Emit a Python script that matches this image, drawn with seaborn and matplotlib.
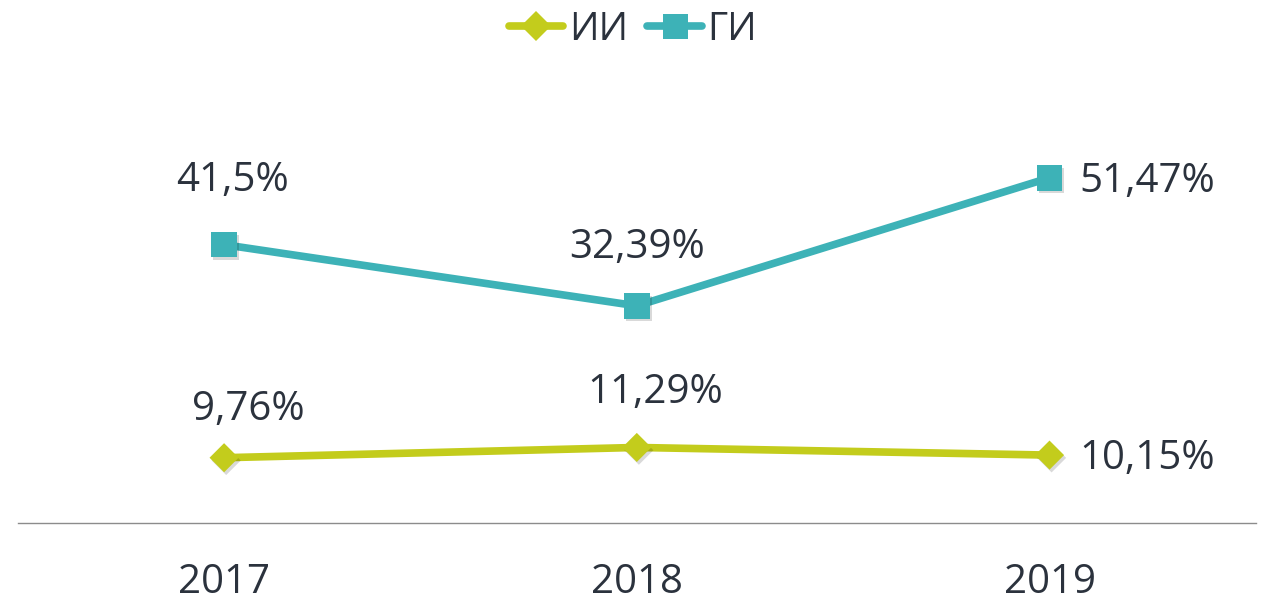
import numpy as np
import pandas as pd
import matplotlib
matplotlib.use("Agg")
import matplotlib.pyplot as plt
import matplotlib.patheffects as pe
from matplotlib.lines import Line2D
import seaborn as sns

# Data
years = ["2017", "2018", "2019"]
ii_vals = [9.76, 11.29, 10.15]
gi_vals = [41.5, 32.39, 51.47]
ii_labels = ["9,76%", "11,29%", "10,15%"]
gi_labels = ["41,5%", "32,39%", "51,47%"]

ii_color = "#C3CC1C"
gi_color = "#3DB2B7"
text_color = "#2B323D"

sns.set_theme(style="white")
plt.rcParams['font.family'] = ['Open Sans', 'DejaVu Sans']

fig = plt.figure(figsize=(12.66, 6.07), dpi=100)
ax = fig.add_axes([0.014, 0.138, 0.978, 0.763])

df = pd.DataFrame({"x": np.arange(len(years)), "ii": ii_vals, "gi": gi_vals})

shadow = [pe.SimplePatchShadow(offset=(1.5, -2), alpha=0.15, shadow_rgbFace="black"), pe.Normal()]

# lines
sns.lineplot(data=df, x="x", y="gi", ax=ax, color=gi_color, lw=5.5)
sns.lineplot(data=df, x="x", y="ii", ax=ax, color=ii_color, lw=5.5)
# markers with soft shadow
sns.scatterplot(data=df, x="x", y="gi", ax=ax, color=gi_color, marker="s", s=340,
                linewidth=0, path_effects=shadow, zorder=3)
sns.scatterplot(data=df, x="x", y="ii", ax=ax, color=ii_color, marker="D", s=220,
                linewidth=0, path_effects=shadow, zorder=3)

ax.set_xlim(-0.5, 2.5)
ax.set_ylim(0, 69)
ax.set_xticks(df["x"])
ax.set_xticklabels(years, fontsize=29, color=text_color)
ax.tick_params(axis="x", length=0, pad=28)
ax.set_yticks([])
ax.set_xlabel("")
ax.set_ylabel("")
for s in ["top", "left", "right"]:
    ax.spines[s].set_visible(False)
ax.spines["bottom"].set_color("#8C8C8C")
ax.spines["bottom"].set_linewidth(1)

# data labels (offsets in pixels)
gi_off = [(8, 64), (0, 58), (30, -4)]
ii_off = [(24, 48), (18, 55), (30, -4)]
gi_ha = ["center", "center", "left"]
ii_ha = ["center", "center", "left"]
for i in range(len(years)):
    ax.annotate(gi_labels[i], (df["x"][i], gi_vals[i]), xytext=gi_off[i],
                textcoords="offset pixels", ha=gi_ha[i], va="center",
                fontsize=29, color=text_color)
    ax.annotate(ii_labels[i], (df["x"][i], ii_vals[i]), xytext=ii_off[i],
                textcoords="offset pixels", ha=ii_ha[i], va="center",
                fontsize=29, color=text_color)

handles = [
    Line2D([], [], color=ii_color, lw=5.5, marker="D", markersize=15, markeredgewidth=0),
    Line2D([], [], color=gi_color, lw=5.5, marker="s", markersize=18, markeredgewidth=0),
]
fig.legend(handles, ["ИИ", "ГИ"], loc="upper center", bbox_to_anchor=(0.5, 1.04),
           ncol=2, frameon=False, fontsize=28, handlelength=1.4, handletextpad=0.15,
           columnspacing=0.5, labelcolor=text_color)

fig.savefig("out.png", dpi=100)
